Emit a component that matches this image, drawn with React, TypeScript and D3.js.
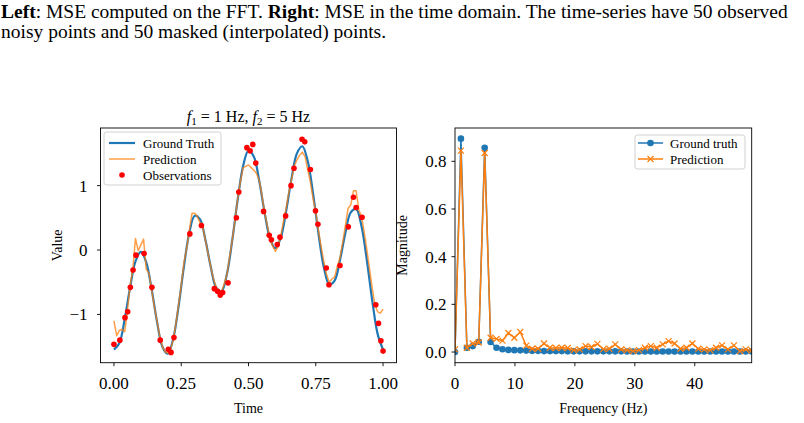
import React from "react";
import * as d3 from "d3";

// ---------- Left panel data ----------
const gtTime = [0, 0.02, 0.04, 0.06, 0.08, 0.1, 0.12, 0.14, 0.16, 0.18, 0.2, 0.22, 0.24, 0.26, 0.28, 0.3, 0.32, 0.34, 0.36, 0.38, 0.4, 0.42, 0.44, 0.46, 0.48, 0.5, 0.52, 0.54, 0.56, 0.58, 0.6, 0.62, 0.64, 0.66, 0.68, 0.7, 0.72, 0.74, 0.76, 0.78, 0.8, 0.82, 0.84, 0.86, 0.88, 0.9, 0.92, 0.94, 0.96, 0.98, 1.0];
const gtValue = [-1.546, -1.447, -1.071, -0.58, -0.178, -0.028, -0.192, -0.608, -1.112, -1.501, -1.611, -1.382, -0.876, -0.257, 0.267, 0.532, 0.474, 0.154, -0.266, -0.584, -0.638, -0.368, 0.163, 0.789, 1.306, 1.546, 1.447, 1.071, 0.58, 0.178, 0.028, 0.192, 0.608, 1.112, 1.501, 1.611, 1.382, 0.876, 0.257, -0.267, -0.532, -0.474, -0.154, 0.266, 0.584, 0.638, 0.368, -0.163, -0.789, -1.306, -1.546];

const predTime = [0, 0.01, 0.02, 0.03, 0.04, 0.05, 0.06, 0.07, 0.08, 0.09, 0.1, 0.11, 0.12, 0.13, 0.14, 0.15, 0.16, 0.17, 0.18, 0.19, 0.2, 0.21, 0.22, 0.23, 0.24, 0.25, 0.26, 0.27, 0.28, 0.29, 0.3, 0.31, 0.32, 0.33, 0.34, 0.35, 0.36, 0.37, 0.38, 0.39, 0.4, 0.41, 0.42, 0.43, 0.44, 0.45, 0.46, 0.47, 0.48, 0.49, 0.5, 0.51, 0.52, 0.53, 0.54, 0.55, 0.56, 0.57, 0.58, 0.59, 0.6, 0.61, 0.62, 0.63, 0.64, 0.65, 0.66, 0.67, 0.68, 0.69, 0.7, 0.71, 0.72, 0.73, 0.74, 0.75, 0.76, 0.77, 0.78, 0.79, 0.8, 0.81, 0.82, 0.83, 0.84, 0.85, 0.86, 0.87, 0.88, 0.89, 0.9, 0.91, 0.92, 0.93, 0.94, 0.95, 0.96, 0.97, 0.98, 0.99, 1.0];
const predValue = [-1.1, -1.33, -1.25, -1.23, -1.27, -0.95, -0.55, -0.3, 0.18, -0.01, 0.08, 0.17, -0.3, -0.36, -0.62, -0.88, -1.1, -1.33, -1.5, -1.58, -1.6, -1.55, -1.4, -1.15, -0.85, -0.55, -0.2, 0.02, 0.3, 0.57, 0.57, 0.52, 0.42, 0.35, 0.15, -0.06, -0.27, -0.45, -0.58, -0.64, -0.64, -0.52, -0.38, -0.1, 0.16, 0.48, 0.8, 1.07, 1.28, 1.3, 1.32, 1.28, 1.24, 1.19, 1.08, 0.85, 0.58, 0.38, 0.18, 0.06, -0.02, 0.06, 0.22, 0.45, 0.65, 0.9, 1.1, 1.3, 1.4, 1.47, 1.52, 1.45, 1.25, 1.05, 0.8, 0.58, 0.3, 0.05, -0.18, -0.38, -0.5, -0.45, -0.42, -0.25, -0.12, 0.12, 0.38, 0.65, 0.7, 0.92, 0.92, 0.62, 0.52, 0.28, 0.0, -0.3, -0.6, -0.85, -0.96, -0.98, -0.92];

const obsTime = [0, 0.022, 0.041, 0.051, 0.061, 0.071, 0.082, 0.112, 0.141, 0.172, 0.202, 0.212, 0.223, 0.282, 0.325, 0.373, 0.385, 0.395, 0.404, 0.424, 0.455, 0.464, 0.494, 0.506, 0.516, 0.527, 0.556, 0.577, 0.585, 0.607, 0.617, 0.638, 0.658, 0.669, 0.699, 0.709, 0.73, 0.749, 0.758, 0.789, 0.799, 0.84, 0.871, 0.89, 0.9, 0.922, 0.973, 0.983, 0.992, 1.0];
const obsValue = [-1.465, -1.4, -1.05, -0.96, -0.58, -0.31, -0.08, -0.055, -0.58, -1.4, -1.54, -1.59, -1.36, 0.25, 0.38, -0.6, -0.64, -0.7, -0.66, -0.51, 0.5, 0.9, 1.59, 1.54, 1.64, 1.35, 0.6, 0.23, 0.16, 0.085, 0.2, 0.53, 1.0, 1.27, 1.72, 1.68, 1.25, 0.61, 0.4, -0.28, -0.54, -0.24, 0.36, 0.82, 0.66, 0.51, -0.85, -1.14, -1.41, -1.57];

const leftXTicks = [0, 0.25, 0.5, 0.75, 1.0];
const leftXTickLabels = ["0.00", "0.25", "0.50", "0.75", "1.00"];
const leftYTicks = [-1, 0, 1];
const leftYTickLabels = ["\u22121", "0", "1"];

// ---------- Right panel data ----------
const freqHz = [0, 0.99, 1.98, 2.97, 3.96, 4.95, 5.94, 6.93, 7.92, 8.91, 9.9, 10.89, 11.88, 12.87, 13.86, 14.85, 15.84, 16.83, 17.82, 18.81, 19.8, 20.79, 21.78, 22.77, 23.76, 24.75, 25.74, 26.73, 27.72, 28.71, 29.7, 30.69, 31.68, 32.67, 33.66, 34.65, 35.64, 36.63, 37.62, 38.61, 39.6, 40.59, 41.58, 42.57, 43.56, 44.55, 45.54, 46.53, 47.52, 48.51, 49.5];
const gtMag = [0.0, 0.895, 0.018, 0.025, 0.043, 0.857, 0.042, 0.018, 0.012, 0.009, 0.008, 0.007, 0.006, 0.005, 0.005, 0.004, 0.004, 0.004, 0.004, 0.003, 0.003, 0.003, 0.003, 0.003, 0.003, 0.003, 0.003, 0.003, 0.003, 0.002, 0.002, 0.002, 0.002, 0.002, 0.002, 0.002, 0.002, 0.002, 0.002, 0.002, 0.002, 0.002, 0.002, 0.002, 0.002, 0.002, 0.002, 0.002, 0.002, 0.002, 0.002];
const predMag = [0.011, 0.845, 0.018, 0.036, 0.04, 0.835, 0.06, 0.055, 0.048, 0.08, 0.06, 0.084, 0.027, 0.014, 0.014, 0.036, 0.018, 0.017, 0.018, 0.017, 0.008, 0.011, 0.025, 0.021, 0.034, 0.012, 0.014, 0.032, 0.011, 0.008, 0.004, 0.008, 0.018, 0.025, 0.018, 0.032, 0.046, 0.036, 0.014, 0.018, 0.036, 0.014, 0.011, 0.008, 0.018, 0.028, 0.011, 0.028, 0.004, 0.011, 0.007];

const rightXTicks = [0, 10, 20, 30, 40];
const rightYTicks = [0, 0.2, 0.4, 0.6, 0.8];

const BLUE = "#1f77b4";
const ORANGE = "#ff7f0e";
const RED = "#ff0000";
const FONT = "'Liberation Serif', 'Times New Roman', serif";

export default function App() {
  const L = { x0: 100.5, x1: 396.5, y0: 128, y1: 362.7 };
  const R = { x0: 455, x1: 751.7, y0: 128, y1: 362.7 };

  const lx = d3.scaleLinear().domain([-0.05, 1.05]).range([L.x0, L.x1]);
  const ly = d3.scaleLinear().domain([-1.75, 1.895]).range([L.y1, L.y0]);
  const rx = d3.scaleLinear().domain([0, 49.5]).range([R.x0, R.x1]);
  const ry = d3.scaleLinear().domain([-0.0447, 0.9397]).range([R.y1, R.y0]);

  const gtLine = d3
    .line<number>()
    .x((_, i) => lx(gtTime[i]))
    .y((d) => ly(d))
    .curve(d3.curveCatmullRom.alpha(0.5))(gtValue) as string;
  const predLine = d3
    .line<number>()
    .x((_, i) => lx(predTime[i]))
    .y((d) => ly(d))(predValue) as string;

  const gtMagLine = d3
    .line<number>()
    .x((_, i) => rx(freqHz[i]))
    .y((d) => ry(d))(gtMag) as string;
  const predMagLine = d3
    .line<number>()
    .x((_, i) => rx(freqHz[i]))
    .y((d) => ry(d))(predMag) as string;

  const tickFs = 17;
  const labelFs = 14;
  const legendFs = 13;
  const xm = (cx: number, cy: number, s: number) =>
    `M${cx - s},${cy - s}L${cx + s},${cy + s}M${cx - s},${cy + s}L${cx + s},${cy - s}`;

  return (
    <svg
      width={804}
      height={423}
      style={{ position: "absolute", left: 0, top: 0, background: "white" }}
      fontFamily={FONT}
    >
      <rect x={0} y={0} width={804} height={423} fill="white" />
      <defs>
        <clipPath id="clipL">
          <rect x={L.x0} y={L.y0} width={L.x1 - L.x0} height={L.y1 - L.y0} />
        </clipPath>
        <clipPath id="clipR">
          <rect x={R.x0} y={R.y0} width={R.x1 - R.x0} height={R.y1 - R.y0} />
        </clipPath>
      </defs>

      {/* caption */}
      <text x={1} y={18} fontSize={19.5} fill="#000">
        <tspan fontWeight="bold">Left</tspan>
        <tspan>{": MSE computed on the FFT. "}</tspan>
        <tspan fontWeight="bold">Right</tspan>
        <tspan>{": MSE in the time domain. The time-series have 50 observed"}</tspan>
      </text>
      <text x={1} y={38} fontSize={19.5} fill="#000">
        noisy points and 50 masked (interpolated) points.
      </text>

      {/* ---------- Left panel ---------- */}
      <g clipPath="url(#clipL)">
        <path d={gtLine} fill="none" stroke={BLUE} strokeWidth={2.2} />
        <path d={predLine} fill="none" stroke={ORANGE} strokeOpacity={0.75} strokeWidth={1.5} strokeLinejoin="round" />
        {obsValue.map((v, i) => (
          <circle key={i} cx={lx(obsTime[i])} cy={ly(v)} r={2.8} fill={RED} />
        ))}
      </g>
      <rect x={L.x0} y={L.y0} width={L.x1 - L.x0} height={L.y1 - L.y0} fill="none" stroke="#000" strokeWidth={0.9} />
      {leftXTicks.map((t, i) => (
        <g key={"lxt" + i}>
          <line x1={lx(t)} x2={lx(t)} y1={L.y1} y2={L.y1 + 3.5} stroke="#000" strokeWidth={0.9} />
          <text x={lx(t)} y={388.5} fontSize={tickFs} textAnchor="middle">
            {leftXTickLabels[i]}
          </text>
        </g>
      ))}
      {leftYTicks.map((t, i) => (
        <g key={"lyt" + i}>
          <line x1={L.x0 - 3.5} x2={L.x0} y1={ly(t)} y2={ly(t)} stroke="#000" strokeWidth={0.9} />
          <text x={87.5} y={ly(t) + 6} fontSize={tickFs} textAnchor="end">
            {leftYTickLabels[i]}
          </text>
        </g>
      ))}
      <text x={(L.x0 + L.x1) / 2} y={413} fontSize={labelFs} textAnchor="middle">
        Time
      </text>
      <text
        transform={`translate(62,${(L.y0 + L.y1) / 2}) rotate(-90)`}
        fontSize={labelFs}
        textAnchor="middle"
      >
        Value
      </text>
      <text x={(L.x0 + L.x1) / 2} y={121.5} fontSize={16} textAnchor="middle">
        <tspan fontStyle="italic">f</tspan>
        <tspan fontSize={11} dy={3}>1</tspan>
        <tspan dy={-3}>{" = 1 Hz, "}</tspan>
        <tspan fontStyle="italic">f</tspan>
        <tspan fontSize={11} dy={3}>2</tspan>
        <tspan dy={-3}>{" = 5 Hz"}</tspan>
      </text>

      {/* left legend */}
      <rect x={104} y={132} width={117} height={53} rx={2.5} fill="white" fillOpacity={0.8} stroke="#cccccc" strokeWidth={0.9} />
      <line x1={109} x2={135} y1={143} y2={143} stroke={BLUE} strokeWidth={2.2} />
      <text x={143} y={147.5} fontSize={legendFs}>Ground Truth</text>
      <line x1={109} x2={135} y1={159} y2={159} stroke={ORANGE} strokeOpacity={0.75} strokeWidth={1.5} />
      <text x={143} y={163.5} fontSize={legendFs}>Prediction</text>
      <circle cx={122} cy={175} r={2.8} fill={RED} />
      <text x={143} y={179.5} fontSize={legendFs}>Observations</text>

      {/* ---------- Right panel ---------- */}
      <g clipPath="url(#clipR)">
        <path d={gtMagLine} fill="none" stroke={BLUE} strokeWidth={1.5} />
        {gtMag.map((m, i) => (
          <circle key={i} cx={rx(freqHz[i])} cy={ry(m)} r={3.3} fill={BLUE} />
        ))}
        <path d={predMagLine} fill="none" stroke={ORANGE} strokeWidth={1.5} />
        {predMag.map((m, i) => (
          <path key={i} d={xm(rx(freqHz[i]), ry(m), 3)} stroke={ORANGE} strokeWidth={1.2} fill="none" />
        ))}
      </g>
      <rect x={R.x0} y={R.y0} width={R.x1 - R.x0} height={R.y1 - R.y0} fill="none" stroke="#000" strokeWidth={0.9} />
      {rightXTicks.map((t, i) => (
        <g key={"rxt" + i}>
          <line x1={rx(t)} x2={rx(t)} y1={R.y1} y2={R.y1 + 3.5} stroke="#000" strokeWidth={0.9} />
          <text x={rx(t)} y={388.5} fontSize={tickFs} textAnchor="middle">
            {String(t)}
          </text>
        </g>
      ))}
      {rightYTicks.map((t, i) => (
        <g key={"ryt" + i}>
          <line x1={R.x0 - 3.5} x2={R.x0} y1={ry(t)} y2={ry(t)} stroke="#000" strokeWidth={0.9} />
          <text x={446.5} y={ry(t) + 6} fontSize={tickFs} textAnchor="end">
            {t.toFixed(1)}
          </text>
        </g>
      ))}
      <text x={(R.x0 + R.x1) / 2} y={413} fontSize={labelFs} textAnchor="middle">
        Frequency (Hz)
      </text>
      <text
        transform={`translate(407,${(R.y0 + R.y1) / 2}) rotate(-90)`}
        fontSize={labelFs}
        textAnchor="middle"
      >
        Magnitude
      </text>

      {/* right legend */}
      <rect x={635} y={135} width={110} height={34} rx={2.5} fill="white" fillOpacity={0.8} stroke="#cccccc" strokeWidth={0.9} />
      <line x1={638} x2={663} y1={143} y2={143} stroke={BLUE} strokeWidth={1.5} />
      <circle cx={650.5} cy={143} r={3.3} fill={BLUE} />
      <text x={670} y={147.5} fontSize={legendFs}>Ground truth</text>
      <line x1={638} x2={663} y1={159} y2={159} stroke={ORANGE} strokeWidth={1.5} />
      <path d={xm(650.5, 159, 3)} stroke={ORANGE} strokeWidth={1.2} fill="none" />
      <text x={670} y={163.5} fontSize={legendFs}>Prediction</text>
    </svg>
  );
}
